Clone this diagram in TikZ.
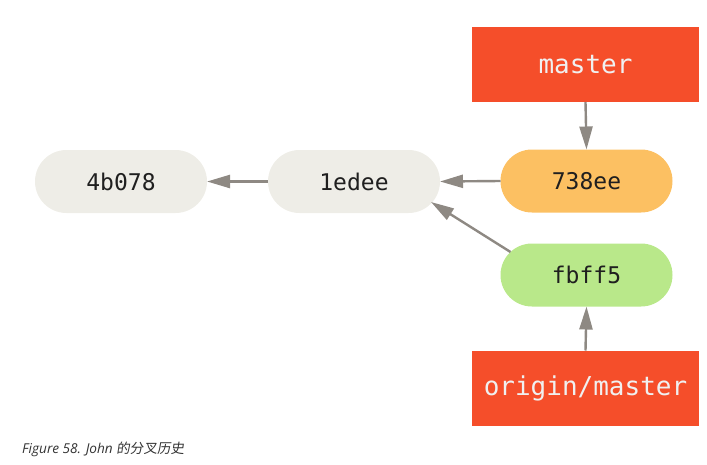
\documentclass[tikz,border=0pt]{standalone}
\usepackage{fontspec}
\newfontfamily\monofont{DejaVu Sans Mono}
\newfontfamily\capfont{Open Sans}
\newfontfamily\cjkfont[FakeSlant=0.15]{Noto Sans CJK SC}
\usetikzlibrary{arrows.meta,calc}
\definecolor{commitgray}{HTML}{EEEDE7}
\definecolor{commitorange}{HTML}{FCC062}
\definecolor{commitgreen}{HTML}{B9E88A}
\definecolor{branchred}{HTML}{F54E2A}
\definecolor{arrowgray}{HTML}{8E8983}
\definecolor{captiongray}{HTML}{333333}
\begin{document}
\begin{tikzpicture}[x=1pt,y=-1pt,
  commit/.style={rectangle,rounded corners=31.5pt,minimum width=172pt,minimum height=63pt,
    inner sep=0pt,outer sep=0pt,font=\monofont\fontsize{23}{24}\selectfont,text=black!88},
  branch/.style={rectangle,minimum width=227pt,minimum height=75pt,fill=branchred,
    inner sep=0pt,outer sep=0pt,font=\monofont\fontsize{26}{28}\selectfont,text=white!94!black},
  arr/.style={draw=arrowgray,line width=2.4pt,-{Triangle[length=23pt,width=13pt]}}]
\useasboundingbox (0,0) rectangle (707,464);
\node[commit,fill=commitgray] (c1) at (121,181.5) {4b078};
\node[commit,fill=commitgray] (c2) at (354,181.5) {1edee};
\node[commit,fill=commitorange] (c3) at (586.5,181) {738ee};
\node[commit,fill=commitgreen] (c4) at (586.5,275) {fbff5};
\node[branch] (m) at (585.5,64.5) {master};
\node[branch] (om) at (585.5,388) {origin/master};
\coordinate (d1) at ($(c4.center)+(-76,-23)$);
\coordinate (d2) at ($(c2.center)+(77,20.5)$);
\draw[arr] (c2.west) -- (c1.east);
\draw[arr] (c3.west) -- (c2.east);
\draw[arr] (d1) -- (d2);
\draw[arr] (m.south) -- (c3.north);
\draw[arr] (om.north) -- (c4.south);
\node[anchor=base west,inner sep=0pt,text=captiongray,font=\capfont\itshape\fontsize{13.6}{15}\selectfont] (cap) at (22,453) {Figure 58. John {\cjkfont 的分叉历史}};
\end{tikzpicture}
\end{document}
